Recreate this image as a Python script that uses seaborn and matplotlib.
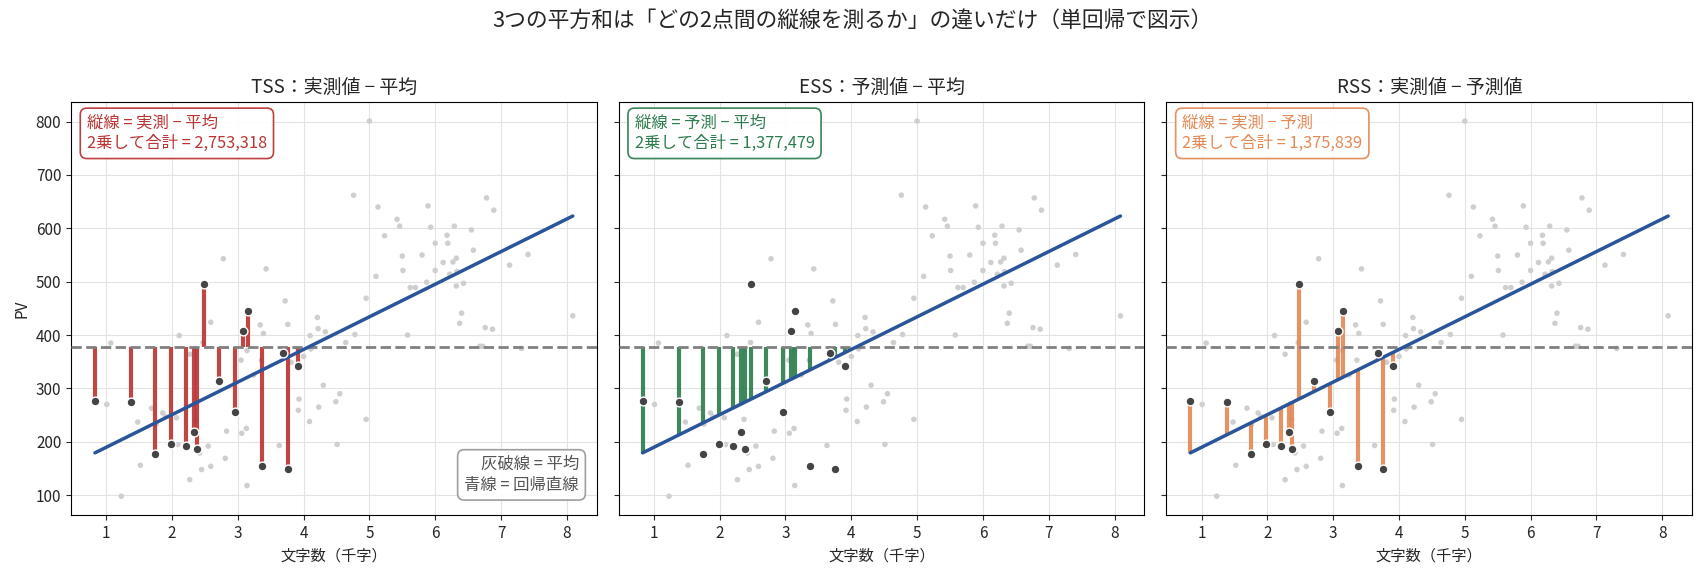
import numpy as np
import pandas as pd
import matplotlib
matplotlib.use("Agg")
import matplotlib.pyplot as plt
import seaborn as sns

# ---------------- data ----------------
# background (all other observations)
bg_x = [5.00, 4.76, 5.13, 5.89, 6.78, 6.89, 5.42, 5.46, 5.93, 6.29, 6.55, 5.23, 6.18,
        6.00, 6.19, 6.58, 5.50, 5.80, 7.41, 7.13, 6.12, 6.27, 6.32, 5.10, 5.51, 6.00,
        6.22, 6.33, 5.87, 5.62, 5.70, 6.32, 6.43, 4.95,
        6.40, 6.37, 6.76, 6.87, 8.09, 5.58, 4.78, 4.64, 6.68, 6.72, 7.31, 4.55, 4.49,
        4.95, 4.51,
        1.07, 1.01, 2.11, 2.59, 2.27, 2.47, 3.34, 3.39, 3.76, 3.72, 3.14, 3.05, 3.36,
        3.24, 3.81, 4.00, 4.10, 4.22, 4.21, 4.33, 4.11, 4.30, 3.93, 3.92, 4.23, 4.09,
        1.69, 1.86, 1.90, 2.07, 1.76, 1.48, 1.52, 1.23, 2.09, 2.37, 2.42, 2.55, 2.45,
        2.59, 2.27, 2.81, 2.83, 3.06, 3.13, 3.14, 3.63,
        2.78, 3.43]
bg_y = [801, 662, 640, 642, 657, 634, 617, 604, 602, 604, 597, 586, 587,
        572, 572, 559, 548, 550, 551, 531, 536, 537, 544, 510, 521, 521,
        514, 519, 499, 489, 489, 492, 497, 469,
        441, 422, 414, 411, 436, 400, 401, 386, 379, 379, 375, 290, 275,
        242, 195,
        385, 270, 399, 424, 364, 386, 419, 403, 420, 464, 371, 353, 353,
        325, 349, 360, 399, 412, 433, 406, 374, 306, 280, 259, 265, 238,
        263, 254, 247, 245, 233, 237, 156, 98, 195, 242, 179, 192, 148,
        154, 129, 169, 220, 216, 225, 118, 193,
        543, 524]

# highlighted observations (the vertical segments are drawn for these)
hl_x = [0.83, 1.38, 1.745, 1.985, 2.21, 2.33, 2.38, 2.48, 2.71, 2.955, 3.08, 3.15,
        3.375, 3.68, 3.76, 3.91]
hl_y = [276, 274.5, 177, 196, 192, 219, 186, 495, 314, 256, 408, 445,
        154, 367, 149, 342]

mean_y = 378.0          # grey dashed line
intercept = 128.5       # regression line
slope = 61.13

sums = {"TSS": 2753318, "ESS": 1377479, "RSS": 1375839}

panel_titles = ["TSS：実測値 − 平均", "ESS：予測値 − 平均", "RSS：実測値 − 予測値"]
box_labels = ["縦線 = 実測 − 平均", "縦線 = 予測 − 平均", "縦線 = 実測 − 予測"]
sum_keys = ["TSS", "ESS", "RSS"]
colors = ["#bb3535", "#2e7d4f", "#e38a57"]
suptitle = "3つの平方和は「どの2点間の縦線を測るか」の違いだけ（単回帰で図示）"
xlabel = "文字数（千字）"
ylabel = "PV"
legend_text = "灰破線 = 平均\n青線 = 回帰直線"

# ---------------- style ----------------
sns.set_style("ticks")
plt.rcParams["font.family"] = ["Noto Sans CJK JP", "DejaVu Sans"]
plt.rcParams["xtick.major.size"] = 3.5
plt.rcParams["ytick.major.size"] = 3.5
plt.rcParams["axes.edgecolor"] = "black"

all_x = np.array(bg_x + hl_x)
all_y = np.array(bg_y + hl_y)
hx = np.array(hl_x)
hy = np.array(hl_y)
hfit = intercept + slope * hx

line_x = np.array([all_x.min(), all_x.max()])
line_df = pd.DataFrame({"x": line_x, "y": intercept + slope * line_x})
all_df = pd.DataFrame({"x": all_x, "y": all_y})
hl_df = pd.DataFrame({"x": hx, "y": hy})

fig, axes = plt.subplots(1, 3, figsize=(17.04, 5.77), dpi=100, sharey=True)
fig.subplots_adjust(left=0.0417, right=0.993, bottom=0.1075, top=0.8227, wspace=0.042)

seg_ranges = [
    (hy, np.full_like(hy, mean_y)),
    (hfit, np.full_like(hy, mean_y)),
    (hy, hfit),
]

for i, ax in enumerate(axes):
    c = colors[i]
    sns.scatterplot(data=all_df, x="x", y="y", ax=ax, color="#cfcfcf", s=16,
                    edgecolor="none", linewidth=0, zorder=1)
    lo, hi = seg_ranges[i]
    ax.vlines(hx, lo, hi, colors=c, linewidth=3.0, alpha=0.92, zorder=2)
    ax.axhline(mean_y, color="#808080", linestyle="--", linewidth=2, zorder=3)
    sns.lineplot(data=line_df, x="x", y="y", ax=ax, color="#2a5599", linewidth=2.5,
                 zorder=3)
    sns.scatterplot(data=hl_df, x="x", y="y", ax=ax, color="#444444", s=40,
                    edgecolor="white", linewidth=1.0, zorder=4)
    ax.grid(True, color="#e3e3e3", linewidth=0.8, zorder=0)
    ax.set_axisbelow(True)
    ax.set_title(panel_titles[i], fontsize=13.6)
    ax.set_xlabel(xlabel, fontsize=11)
    ax.set_ylabel(ylabel if i == 0 else "", fontsize=11)
    ax.tick_params(labelsize=11)
    for sp in ax.spines.values():
        sp.set_visible(True)
        sp.set_color("black")
    ax.text(0.03, 0.970, f"{box_labels[i]}\n2乗して合計 = {sums[sum_keys[i]]:,}",
            transform=ax.transAxes, ha="left", va="top", fontsize=11.8, color=c,
            linespacing=1.25,
            bbox=dict(boxstyle="round,pad=0.4", facecolor="white", edgecolor=c,
                      linewidth=1.2, alpha=0.95), zorder=6)

axes[0].text(0.966, 0.052, legend_text, transform=axes[0].transAxes, ha="right",
             va="bottom", fontsize=11.8, color="#555555", linespacing=1.25,
             bbox=dict(boxstyle="round,pad=0.4", facecolor="white", edgecolor="#999999",
                       linewidth=1.2, alpha=0.95), zorder=6)

fig.suptitle(suptitle, fontsize=15.7, y=0.983, va="top")
fig.savefig("out.png", dpi=100)
